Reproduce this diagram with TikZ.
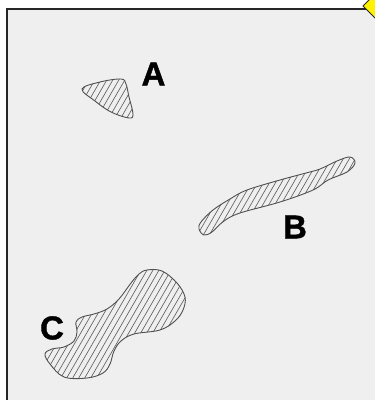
\documentclass[tikz,border=0pt]{standalone}
\usepackage{fontspec}
\setmainfont{Liberation Sans}
\newfontfamily\heavyfont{Liberation Sans}[BoldFont={Liberation Sans Bold}, BoldFeatures={FakeBold=1.2}]
\definecolor{panel}{HTML}{EFEFEF}
\definecolor{edge}{HTML}{505050}
\definecolor{hatch}{HTML}{606060}
\tikzset{
  lbl/.style={font=\heavyfont\fontsize{33}{33}\selectfont\bfseries, inner sep=0pt},
  outline/.style={draw=edge, line width=0.9pt},
  hatchline/.style={draw=hatch, line width=0.65pt}
}
\newcommand{\hatchfill}[1]{%
  \begin{scope}
    \clip plot[smooth cycle, tension=0.6] coordinates {#1};
    \foreach \i in {-300,-294,...,420} \draw[hatchline] (\i,400) -- ++(231,-400);
  \end{scope}
  \draw[outline] plot[smooth cycle, tension=0.6] coordinates {#1};
}
\begin{document}
\begin{tikzpicture}[x=1pt,y=-1pt]
\useasboundingbox (0,0) rectangle (375,400);
\fill[white] (0,0) rectangle (375,400);
\filldraw[fill=panel, draw=black!85, line width=1.2pt] (7,9) rectangle (390,420);
% A
\hatchfill{(82,89) (100,82) (121,79) (126,84) (129,97) (133,114) (129,118) (111,112) (95,101)}
% B
\hatchfill{(199,229) (204,235) (212,232) (224,221) (240,213) (280,202) (313,190) (328,180) (347,172) (355,163) (350,157) (337,161) (320,169) (306,173) (280,180) (247,190) (230,199) (213,210) (201,222)}
% C
\hatchfill{(147,270) (162,271) (177,283) (185,297) (183,310) (175,321) (160,330) (134,334) (121,341) (114,351) (110,364) (103,373) (87,378) (64,377) (50,364) (45,354) (52,349) (64,347) (74,341) (77,332) (76,322) (82,317) (94,314) (107,309) (119,299) (131,283) (139,274)}
\node[lbl] (labA) at (153.5,74) {A};
\node[lbl] (labB) at (295,227) {B};
\node[lbl] (labC) at (52,328) {C};
\filldraw[fill=yellow, draw=black!85, line width=1pt] (375,-6) -- (387,6) -- (375,18) -- (363,6) -- cycle;
\end{tikzpicture}
\end{document}
